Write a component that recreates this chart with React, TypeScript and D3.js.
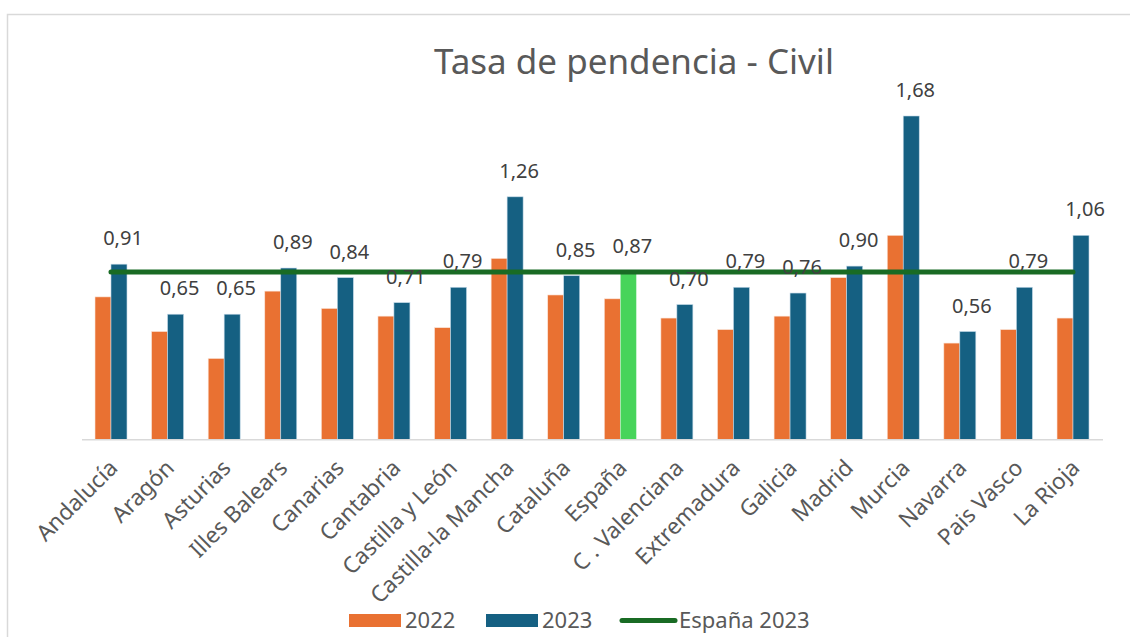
import React, { useRef, useEffect } from 'react';
import * as d3 from 'd3';

// Data
const regions = [
  'Andalucía', 'Aragón', 'Asturias', 'Illes Balears', 'Canarias', 'Cantabria',
  'Castilla y León', 'Castilla-la Mancha', 'Cataluña', 'España', 'C . Valenciana',
  'Extremadura', 'Galicia', 'Madrid', 'Murcia', 'Navarra', 'Pais Vasco', 'La Rioja',
];
const values2022 = [0.74, 0.56, 0.42, 0.77, 0.68, 0.64, 0.58, 0.94, 0.75, 0.73, 0.63, 0.57, 0.64, 0.84, 1.06, 0.50, 0.57, 0.63];
const values2023 = [0.91, 0.65, 0.65, 0.89, 0.84, 0.71, 0.79, 1.26, 0.85, 0.87, 0.70, 0.79, 0.76, 0.90, 1.68, 0.56, 0.79, 1.06];
const espana2023 = 0.87;
const highlight = 'España';
const seriesNames = ['2022', '2023', 'España 2023'];

const FONT = '"Noto Sans", "Open Sans", sans-serif';

export default function App() {
  const svgRef = useRef<SVGSVGElement>(null);

  useEffect(() => {
    if (!svgRef.current) return;
    const svg = d3.select(svgRef.current);
    svg.selectAll('*').remove();

    const width = 1130;
    const height = 637;

    // chart frame (only left and top visible)
    svg.append('rect')
      .attr('x', 7.5).attr('y', 14.5)
      .attr('width', 1200).attr('height', 700)
      .attr('fill', '#fff')
      .attr('stroke', '#d9d9d9')
      .attr('stroke-width', 1.5);

    const x0 = d3.scaleBand()
      .domain(regions)
      .range([82.7, 1101.3])
      .paddingInner(0.435)
      .paddingOuter(0.2175);

    const x1 = d3.scaleBand()
      .domain(['2022', '2023'])
      .range([0, x0.bandwidth()]);

    const y = d3.scaleLinear()
      .domain([0, 1.68])
      .range([439.3, 116]);

    const g = svg.append('g');

    // 2022 bars
    g.selectAll('.b22')
      .data(regions)
      .enter().append('rect')
      .attr('x', d => (x0(d) || 0) + (x1('2022') || 0))
      .attr('y', (d, i) => y(values2022[i]))
      .attr('width', x1.bandwidth())
      .attr('height', (d, i) => y(0) - y(values2022[i]))
      .attr('fill', '#e97132')
      .attr('stroke', '#fbe3d6')
      .attr('stroke-width', 0.6);

    // 2023 bars
    g.selectAll('.b23')
      .data(regions)
      .enter().append('rect')
      .attr('x', d => (x0(d) || 0) + (x1('2023') || 0))
      .attr('y', (d, i) => y(values2023[i]))
      .attr('width', x1.bandwidth())
      .attr('height', (d, i) => y(0) - y(values2023[i]))
      .attr('fill', d => (d === highlight ? '#47d45a' : '#156082'))
      .attr('stroke', d => (d === highlight ? '#c9f2cf' : '#c0d7e6'))
      .attr('stroke-width', 0.6);

    // baseline
    g.append('line')
      .attr('x1', 82).attr('x2', 1103)
      .attr('y1', y(0) + 0.5).attr('y2', y(0) + 0.5)
      .attr('stroke', '#d9d9d9')
      .attr('stroke-width', 1.5);

    // España 2023 reference line
    const line = d3.line<string>()
      .x(d => (x0(d) || 0) + x0.bandwidth() / 2)
      .y(() => y(espana2023));
    g.append('path')
      .datum([regions[0], regions[regions.length - 1]])
      .attr('d', line)
      .attr('fill', 'none')
      .attr('stroke', '#196b24')
      .attr('stroke-width', 5)
      .attr('stroke-linecap', 'round');

    // data labels 2023
    g.selectAll('.lab')
      .data(regions)
      .enter().append('text')
      .attr('x', d => (x0(d) || 0) + (x1('2023') || 0) + x1.bandwidth() / 2 + 4)
      .attr('y', (d, i) => y(values2023[i]) - 19)
      .attr('text-anchor', 'middle')
      .attr('font-family', FONT)
      .attr('font-size', 20)
      .attr('fill', '#404040')
      .text((d, i) => d3.format('.2f')(values2023[i]).replace('.', ','));

    // category labels
    g.selectAll('.cat')
      .data(regions)
      .enter().append('text')
      .attr('transform', d => `translate(${(x0(d) || 0) + x0.bandwidth() / 2 + 8},${y(0) + 30}) rotate(-45)`)
      .attr('text-anchor', 'end')
      .attr('font-family', FONT)
      .attr('font-size', 22.5)
      .attr('fill', '#595959')
      .text(d => d);

    // title
    svg.append('text')
      .attr('x', 634).attr('y', 74)
      .attr('text-anchor', 'middle')
      .attr('font-family', FONT)
      .attr('font-size', 35)
      .attr('fill', '#595959')
      .text('Tasa de pendencia - Civil');

    // legend
    const leg = svg.append('g').attr('font-family', FONT).attr('font-size', 22).attr('fill', '#595959');
    leg.append('rect').attr('x', 349).attr('y', 614).attr('width', 52).attr('height', 13).attr('fill', '#e97132');
    leg.append('text').attr('x', 405).attr('y', 628).text(seriesNames[0]);
    leg.append('rect').attr('x', 486).attr('y', 614).attr('width', 52).attr('height', 13).attr('fill', '#156082');
    leg.append('text').attr('x', 542).attr('y', 628).text(seriesNames[1]);
    leg.append('line')
      .attr('x1', 622).attr('x2', 675).attr('y1', 620.5).attr('y2', 620.5)
      .attr('stroke', '#196b24').attr('stroke-width', 5).attr('stroke-linecap', 'round');
    leg.append('text').attr('x', 679).attr('y', 628).text(seriesNames[2]);

    svg.attr('width', width).attr('height', height);
  }, []);

  return (
    <div style={{ position: 'absolute', left: 0, top: 0, width: 1130, height: 637, background: '#fff', overflow: 'hidden' }}>
      <svg ref={svgRef} width={1130} height={637} style={{ display: 'block' }}></svg>
    </div>
  );
}
